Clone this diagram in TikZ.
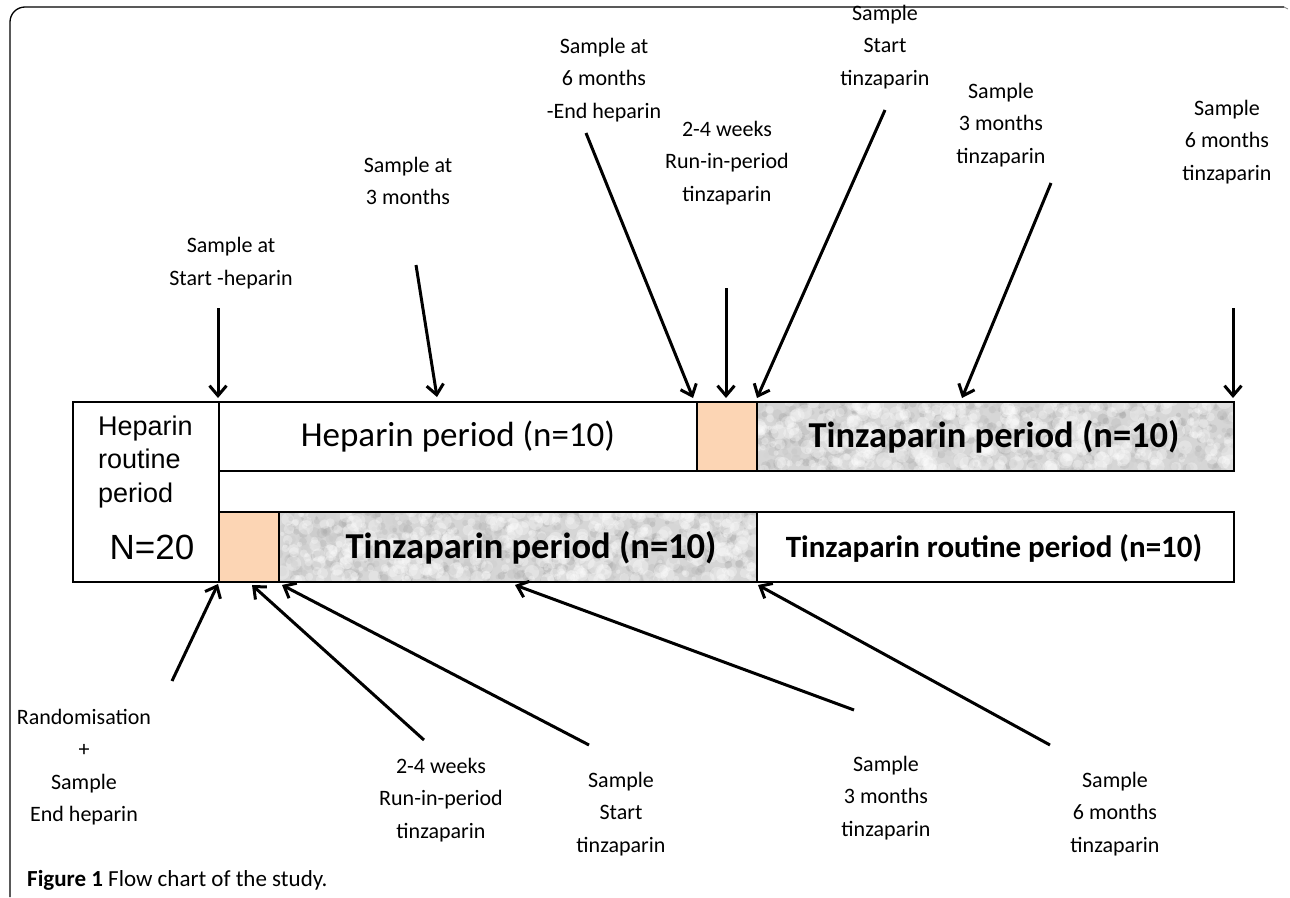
\documentclass[tikz,border=0pt]{standalone}
\usepackage{fontspec}
\setmainfont{Carlito}
\newfontfamily\arialfont{Liberation Sans}
\usetikzlibrary{arrows.meta}
\definecolor{runin}{RGB}{252,213,180}
\definecolor{marble}{RGB}{214,214,214}
\tikzset{
  box/.style={draw=black, line width=1.6pt, inner sep=0pt, anchor=north west},
  lbl/.style={align=center, inner sep=0pt, font=\fontsize{22}{32.5}\selectfont},
  arr/.style={line width=3pt, -{Straight Barb[length=10pt,width=17pt]}},
  big/.style={font=\fontsize{35}{38}\selectfont},
  bigb/.style={font=\fontsize{36.5}{40}\selectfont\bfseries},
}
\newcommand{\marblefill}[4]{%
  \begin{scope}
    \clip (#1,#2) rectangle (#3,#4);
    \fill[marble] (#1,#2) rectangle (#3,#4);
    \foreach \i in {1,...,900}{
      \pgfmathsetmacro\xx{#1+rnd*(#3-#1)}
      \pgfmathsetmacro\yy{#2+rnd*(#4-#2)}
      \pgfmathsetmacro\gg{int(12+rnd*28)}
      \pgfmathsetmacro\ss{1.5+rnd*4}
      \fill[black!\gg, opacity=0.3] (\xx,\yy) circle[radius=\ss];
    }
    \foreach \i in {1,...,450}{
      \pgfmathsetmacro\xx{#1+rnd*(#3-#1)}
      \pgfmathsetmacro\yy{#2+rnd*(#4-#2)}
      \pgfmathsetmacro\ss{2+rnd*6}
      \fill[white, opacity=0.3] (\xx,\yy) circle[radius=\ss];
    }
  \end{scope}}
\begin{document}
\begin{tikzpicture}[x=1pt,y=-1pt]
\pgfmathsetseed{7}
\useasboundingbox (0,0) rectangle (1290,897);
% frame
\draw[line width=1.3pt, rounded corners=15pt] (10,897) -- (10,7) -- (1284,7);
\draw[gray, line width=0.8pt] (1284,7) -- (1288,9);

% marble fills
\marblefill{756}{401}{1233}{470}
\marblefill{278}{511}{756}{581}

% boxes
\node[box, minimum width=146pt, minimum height=180pt] (routine) at (72,401) {};
\node[box, minimum width=478pt, minimum height=69pt] (hep) at (218,401) {};
\node[box, fill=runin, minimum width=60pt, minimum height=69pt] (runA) at (696,401) {};
\node[box, minimum width=477pt, minimum height=69pt] (tinA) at (756,401) {};
\node[box, fill=runin, minimum width=60pt, minimum height=70pt] (runB) at (218,511) {};
\node[box, minimum width=478pt, minimum height=70pt] (tinB) at (278,511) {};
\node[box, minimum width=477pt, minimum height=70pt] (tinR) at (756,511) {};

% box texts
\node[align=left, anchor=west, inner sep=0pt, font=\arialfont\fontsize{27}{33.5}\selectfont] (routinetxt) at (98,462) {Heparin\\routine\\period};
\node[inner sep=0pt, font=\arialfont\fontsize{35}{38}\selectfont] (ntxt) at (152,547) {N=20};
\node[big] (heptxt) at (458,437) {Heparin period (n=10)};
\node[bigb] (tinAtxt) at (994,437) {Tinzaparin period (n=10)};
\node[bigb] (tinBtxt) at (531,548) {Tinzaparin period (n=10)};
\node[font=\fontsize{31}{34}\selectfont\bfseries] (tinRtxt) at (994,548) {Tinzaparin routine period (n=10)};

% top labels
\node[lbl] (t1) at (231,263) {Sample at\\Start -heparin};
\node[lbl] (t2) at (408,181) {Sample at\\3 months};
\node[lbl] (t3) at (604,80) {Sample at\\6 months\\-End heparin};
\node[lbl] (t4) at (727,163) {2-4 weeks\\Run-in-period\\tinzaparin};
\node[lbl] (t5) at (885,47) {Sample\\Start\\tinzaparin};
\node[lbl] (t6) at (1001,125) {Sample\\3 months\\tinzaparin};
\node[lbl] (t7) at (1227,142) {Sample\\6 months\\tinzaparin};

% bottom labels
\node[lbl] (b1) at (84,767) {Randomisation\\+\\Sample\\End heparin};
\node[lbl] (b2) at (441,800) {2-4 weeks\\Run-in-period\\tinzaparin};
\node[lbl] (b3) at (621,814) {Sample\\Start\\tinzaparin};
\node[lbl] (b4) at (886,798) {Sample\\3 months\\tinzaparin};
\node[lbl] (b5) at (1115,814) {Sample\\6 months\\tinzaparin};

% arrow coordinates
\coordinate (s1) at (218,308); \coordinate (e1) at (218,398);
\coordinate (s2) at (416,265); \coordinate (e2) at (437,397);
\coordinate (s3) at (586,133); \coordinate (e3) at (693,398);
\coordinate (s4) at (726,288); \coordinate (e4) at (726,398);
\coordinate (s5) at (885,110); \coordinate (e5) at (757,398);
\coordinate (s6) at (1051,183); \coordinate (e6) at (962,398);
\coordinate (s7) at (1233,308); \coordinate (e7) at (1233,398);
\coordinate (u1) at (172,681); \coordinate (f1) at (218,584);
\coordinate (u2) at (424,740); \coordinate (f2) at (252,585);
\coordinate (u3) at (589,745); \coordinate (f3) at (282,585);
\coordinate (u4) at (854,710); \coordinate (f4) at (515,585);
\coordinate (u5) at (1050,745); \coordinate (f5) at (758,585);

\foreach \a/\b in {s1/e1,s2/e2,s3/e3,s4/e4,s5/e5,s6/e6,s7/e7,u1/f1,u2/f2,u3/f3,u4/f4,u5/f5}
  \draw[arr] (\a) -- (\b);

% caption
\node[anchor=west, inner sep=0pt, font=\fontsize{23}{26}\selectfont] (cap) at (27,880) {\textbf{Figure 1} Flow chart of the study.};
\end{tikzpicture}
\end{document}
